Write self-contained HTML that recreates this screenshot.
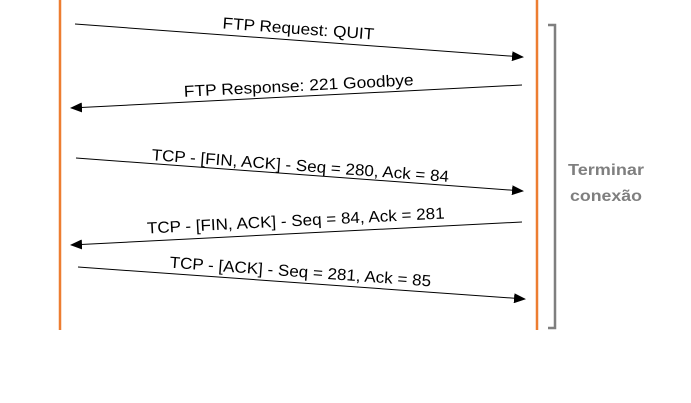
<!DOCTYPE html>
<html><head><meta charset="utf-8"><style>
html,body{margin:0;padding:0;background:#fff;}
svg{display:block;}
text{font-family:"Liberation Sans",sans-serif;font-size:16px;fill:#000;}
</style></head><body>
<svg width="691" height="403" viewBox="0 0 691 403" xmlns="http://www.w3.org/2000/svg">
<defs>
<marker id="a" markerWidth="12" markerHeight="10" refX="11" refY="5" orient="auto" markerUnits="userSpaceOnUse">
<path d="M0,0 L12,5 L0,10 Z" fill="#000"/>
</marker>
</defs>
<line x1="60" y1="0" x2="60" y2="330" stroke="#ED7D31" stroke-width="2.5"/>
<line x1="537" y1="0" x2="537" y2="330" stroke="#ED7D31" stroke-width="2.5"/>
<path d="M548,25 L555,25 L555,328 L548,328" fill="none" stroke="#7f7f7f" stroke-width="2.5"/>
<text x="606" y="175" text-anchor="middle" style="fill:#7f7f7f;font-size:16px;font-weight:bold" textLength="76" lengthAdjust="spacingAndGlyphs">Terminar</text>
<text x="606" y="201" text-anchor="middle" style="fill:#7f7f7f;font-size:16px;font-weight:bold" textLength="72" lengthAdjust="spacingAndGlyphs">conexão</text>

<line x1="75" y1="24" x2="523" y2="57" stroke="#000" stroke-width="1" marker-end="url(#a)"/>
<line x1="522" y1="85" x2="71" y2="108" stroke="#000" stroke-width="1" marker-end="url(#a)"/>
<line x1="76" y1="158" x2="523" y2="191" stroke="#000" stroke-width="1" marker-end="url(#a)"/>
<line x1="522" y1="222" x2="71" y2="245" stroke="#000" stroke-width="1" marker-end="url(#a)"/>
<line x1="78" y1="267" x2="525" y2="299" stroke="#000" stroke-width="1" marker-end="url(#a)"/>

<text transform="translate(298,34) rotate(4.2)" text-anchor="middle" textLength="152" lengthAdjust="spacingAndGlyphs">FTP Request: QUIT</text>
<text transform="translate(299,91) rotate(-2.9)" text-anchor="middle" textLength="230" lengthAdjust="spacingAndGlyphs">FTP Response: 221 Goodbye</text>
<text transform="translate(300,171) rotate(4.2)" text-anchor="middle" textLength="298" lengthAdjust="spacingAndGlyphs">TCP - [FIN, ACK] - Seq = 280, Ack = 84</text>
<text transform="translate(296,226) rotate(-2.9)" text-anchor="middle" textLength="298" lengthAdjust="spacingAndGlyphs">TCP - [FIN, ACK] - Seq = 84, Ack = 281</text>
<text transform="translate(300,277) rotate(4.1)" text-anchor="middle" textLength="262" lengthAdjust="spacingAndGlyphs">TCP - [ACK] - Seq = 281, Ack = 85</text>
</svg>
</body></html>
